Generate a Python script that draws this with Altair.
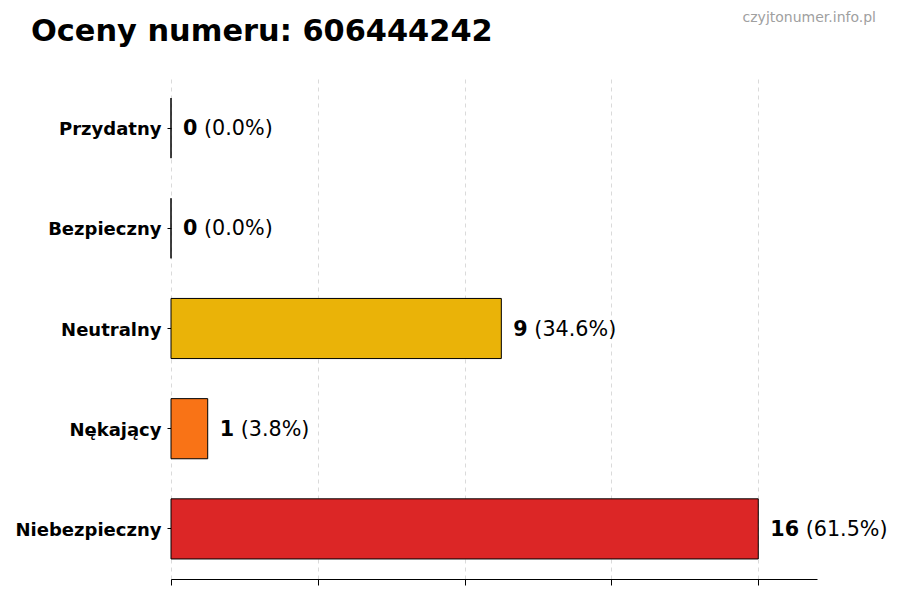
import altair as alt
import pandas as pd

categories = ["Przydatny", "Bezpieczny", "Neutralny", "Nękający", "Niebezpieczny"]
counts = [0, 0, 9, 1, 16]
percents = [0.0, 0.0, 34.6, 3.8, 61.5]
colors = ["#3b82f6", "#22c55e", "#eab308", "#f97316", "#dc2626"]
title_text = "Oceny numeru: 606444242"
watermark = "czyjtonumer.info.pl"
x_ticks = [0, 4, 8, 12, 16]
x_max = 17.6

df = pd.DataFrame({
    "cat": categories,
    "count": counts,
    "pct": [f"({p:.1f}%)" for p in percents],
    "num": [str(c) for c in counts],
})

W, H = 646, 501
px_per_unit = W / x_max
LABEL_FS = 20.7

x_axis = alt.Axis(values=x_ticks, labels=False, title=None, grid=True,
                  gridDash=[4, 4], gridColor="#d0d0d0", gridWidth=0.8,
                  tickColor="black", tickSize=6, domainColor="black",
                  domainWidth=1)
y_axis = alt.Axis(title=None, domain=False, ticks=True, tickSize=4,
                  tickColor="black", labelFontWeight="bold",
                  labelFontSize=18, labelColor="black", labelPadding=6,
                  labelOffset=2, labelFont="DejaVu Sans", grid=False)
x_scale = alt.Scale(domain=[0, x_max], nice=False, zero=True)
y_scale = alt.Scale(paddingInner=0.4, paddingOuter=0.2)

bars = alt.Chart(df).mark_bar(stroke="black", strokeWidth=1).encode(
    x=alt.X("count:Q", scale=x_scale, axis=x_axis),
    y=alt.Y("cat:N", sort=categories, scale=y_scale, axis=y_axis),
    color=alt.Color("cat:N", scale=alt.Scale(domain=categories, range=colors), legend=None),
)

num_text = alt.Chart(df).mark_text(
    align="left", baseline="middle", dx=12, dy=1, fontSize=LABEL_FS, fontWeight="bold",
    font="DejaVu Sans", color="black"
).encode(x=alt.X("count:Q", scale=x_scale, axis=x_axis),
         y=alt.Y("cat:N", sort=categories, scale=y_scale, axis=y_axis), text="num:N")

pct_text = alt.Chart(df).transform_calculate(
    xp=f"datum.count + (18.6 + length(datum.num) * 14.4) / {px_per_unit}"
).mark_text(
    align="left", baseline="middle", dy=1, fontSize=LABEL_FS, font="DejaVu Sans", color="black"
).encode(x=alt.X("xp:Q", scale=x_scale, axis=x_axis),
         y=alt.Y("cat:N", sort=categories, scale=y_scale, axis=y_axis), text="pct:N")

wm = alt.Chart(pd.DataFrame({"t": [watermark]})).mark_text(
    align="right", baseline="alphabetic", fontSize=14, font="DejaVu Sans",
    color="#a0a0a0"
).encode(x=alt.value(705), y=alt.value(-56), text="t:N")

ttl = alt.Chart(pd.DataFrame({"t": [title_text]})).mark_text(
    align="left", baseline="alphabetic", fontSize=30.4, fontWeight="bold",
    font="DejaVu Sans", color="black"
).encode(x=alt.value(-140), y=alt.value(-37), text="t:N")

chart = alt.layer(bars, num_text, pct_text, wm, ttl).properties(
    width=W, height=H,
    background="white",
    autosize=alt.AutoSizeParams(type="none"),
    padding={"left": 163, "top": 70, "right": 70, "bottom": 20},
).configure_view(strokeWidth=0, stroke=None)

chart.save("out.html", embed_options={"renderer": "svg", "actions": False})
